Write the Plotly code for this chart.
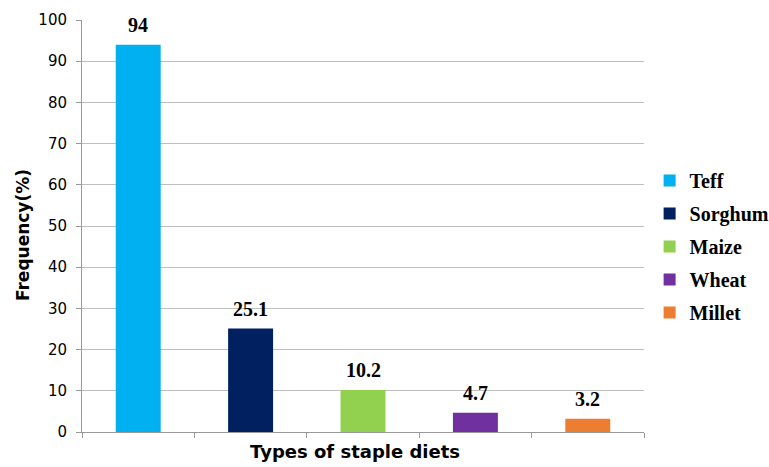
import plotly.graph_objects as go

# Staple diet frequencies (%)
categories = ["Teff", "Sorghum", "Maize", "Wheat", "Millet"]
values = [94, 25.1, 10.2, 4.7, 3.2]
colors = ["#00B0F0", "#002060", "#92D050", "#7030A0", "#ED7D31"]
y_ticks = [0, 10, 20, 30, 40, 50, 60, 70, 80, 90, 100]

label_font = dict(family="Liberation Serif", size=20, color="black", weight="bold")

fig = go.Figure()
for cat, val, col in zip(categories, values, colors):
    fig.add_trace(go.Bar(
        x=[cat], y=[val], name=cat, legendgroup=cat,
        marker=dict(color=col, line=dict(width=0)),
        width=0.4,
    ))
    # value label above each bar
    fig.add_annotation(
        x=cat, y=val, xref="x", yref="y",
        text=f"<b>{val:g}</b>", showarrow=False,
        yanchor="bottom", yshift=7,
        font=label_font,
    )

# axis titles
fig.add_annotation(
    x=0.486, y=-0.0485, xref="paper", yref="paper",
    text="<b>Types of staple diets</b>", showarrow=False,
    xanchor="center", yanchor="middle",
    font=dict(family="DejaVu Sans", size=18, color="black"),
)
fig.add_annotation(
    x=-0.105, y=0.478, xref="paper", yref="paper",
    text="<b>Frequency(%)</b>", showarrow=False, textangle=-90,
    xanchor="center", yanchor="middle",
    font=dict(family="DejaVu Sans", size=17, color="black"),
)

fig.update_layout(
    width=769, height=467,
    margin=dict(l=82, r=125, t=20, b=35, autoexpand=False),
    paper_bgcolor="white", plot_bgcolor="white",
    barmode="overlay",
    showlegend=True,
    legend=dict(
        x=1.01, y=0.45, xanchor="left", yanchor="middle",
        font=dict(family="Liberation Serif", size=20, color="black", weight="bold"),
        itemwidth=30, tracegroupgap=4,
    ),
    font=dict(family="DejaVu Sans", color="black"),
)

fig.update_xaxes(
    categoryorder="array", categoryarray=categories,
    range=[-0.5, 4.5],
    showticklabels=False,
    tickson="boundaries", ticks="outside", ticklen=5, tickcolor="#999999",
    showline=True, linecolor="#999999", linewidth=1,
    showgrid=False,
)
fig.update_yaxes(
    range=[0, 100], tickvals=y_ticks,
    ticks="outside", ticklen=5, tickcolor="#999999",
    tickfont=dict(family="DejaVu Sans", size=15, color="black"),
    ticklabelstandoff=6,
    showline=True, linecolor="#999999", linewidth=1,
    showgrid=True, gridcolor="#BFBFBF", gridwidth=1,
    zeroline=False,
)

fig.write_html("out.html")
